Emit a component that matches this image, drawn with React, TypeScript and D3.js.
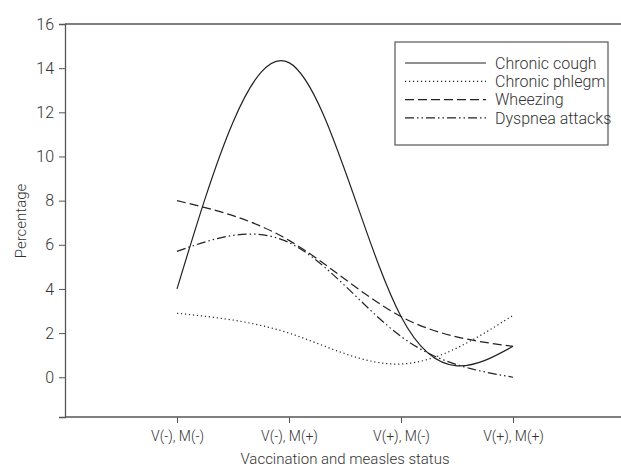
import * as d3 from 'd3';
import React, { useEffect, useRef } from 'react';

const categories = ['V(-), M(-)', 'V(-), M(+)', 'V(+), M(-)', 'V(+), M(+)'];
const yTicks = [0, 2, 4, 6, 8, 10, 12, 14, 16];

const chronicCough = [4.0, 14.25, 2.75, 1.4];
const chronicPhlegm = [2.9, 2.0, 0.6, 2.8];
const wheezing = [8.0, 6.2, 2.75, 1.4];
const dyspneaAttacks = [5.7, 6.1, 1.85, 0.0];

const seriesNames = ['Chronic cough', 'Chronic phlegm', 'Wheezing', 'Dyspnea attacks'];
const seriesValues = [chronicCough, chronicPhlegm, wheezing, dyspneaAttacks];
const dashes = ['none', '1.2,2.8', '9,4', '9,3,1.5,3,1.5,3'];

const width = 621;
const height = 470;
const font = 'Roboto, sans-serif';

const App = () => {
  const svgRef = useRef<SVGSVGElement>(null);

  useEffect(() => {
    const svg = d3.select(svgRef.current);
    svg.selectAll('*').remove();

    const left = 65;
    const top = 24;
    const bottom = 417;

    // x runs one slot to the left of the first category, frame is cut at the right
    const xScale = d3.scaleLinear().domain([-1, 4]).range([left, left + 560]);
    const yScale = d3.scaleLinear().domain([-1.8, 16]).range([bottom, top]);

    const axisColor = '#555';

    // frame
    svg.append('line').attr('x1', left).attr('x2', width).attr('y1', top).attr('y2', top)
      .attr('stroke', axisColor).attr('stroke-width', 1.3);
    svg.append('line').attr('x1', left).attr('x2', width).attr('y1', bottom).attr('y2', bottom)
      .attr('stroke', axisColor).attr('stroke-width', 1.3);

    const yAxis = d3.axisLeft(yScale).tickValues(yTicks).tickSize(6).tickPadding(5);
    const gy = svg.append('g').attr('transform', `translate(${left},0)`).call(yAxis);
    gy.select('.domain').attr('stroke', axisColor).attr('stroke-width', 1.3);
    gy.selectAll('.tick line').attr('stroke', axisColor);
    gy.selectAll('.tick text').attr('fill', '#333').style('font-family', font)
      .style('font-size', '16px').style('font-weight', 300);

    const xAxis = d3.axisBottom(xScale).tickValues([0, 1, 2, 3])
      .tickFormat((d) => categories[d as number]).tickSize(6).tickPadding(8).tickSizeOuter(0);
    const gx = svg.append('g').attr('transform', `translate(0,${bottom})`).call(xAxis);
    gx.select('.domain').remove();
    gx.selectAll('.tick line').attr('stroke', axisColor);
    gx.selectAll('.tick text').attr('fill', '#333').style('font-family', font)
      .style('font-size', '14px').style('font-weight', 300);

    svg.append('text')
      .attr('x', 345).attr('y', 464)
      .attr('text-anchor', 'middle')
      .attr('fill', '#333')
      .style('font-family', font).style('font-size', '15px').style('font-weight', 300)
      .text('Vaccination and measles status');

    svg.append('text')
      .attr('transform', 'translate(26,221) rotate(-90)')
      .attr('text-anchor', 'middle')
      .attr('fill', '#333')
      .style('font-family', font).style('font-size', '15px').style('font-weight', 300)
      .text('Percentage');

    const line = d3.line<number>()
      .x((d, i) => xScale(i))
      .y((d) => yScale(d))
      .curve(d3.curveNatural);

    seriesValues.forEach((vals, i) => {
      svg.append('path')
        .attr('d', line(vals))
        .attr('fill', 'none')
        .attr('stroke', '#222')
        .attr('stroke-width', 1.2)
        .attr('stroke-dasharray', dashes[i]);
    });

    // legend
    const lg = svg.append('g');
    lg.append('rect').attr('x', 395).attr('y', 42).attr('width', 213).attr('height', 103)
      .attr('fill', 'white').attr('stroke', axisColor).attr('stroke-width', 1.2);
    seriesNames.forEach((name, i) => {
      const y = 63 + i * 18.3;
      lg.append('line').attr('x1', 405).attr('x2', 486).attr('y1', y).attr('y2', y)
        .attr('stroke', '#222').attr('stroke-width', 1.2).attr('stroke-dasharray', dashes[i]);
      lg.append('text').attr('x', 495).attr('y', y).attr('dy', '0.35em')
        .attr('fill', '#333')
        .style('font-family', font).style('font-size', '16px').style('font-weight', 300)
        .text(name);
    });
  }, []);

  return (
    <svg ref={svgRef} width={width} height={height}
      style={{ position: 'absolute', left: 0, top: 0, background: 'white' }} />
  );
};

export default App;
